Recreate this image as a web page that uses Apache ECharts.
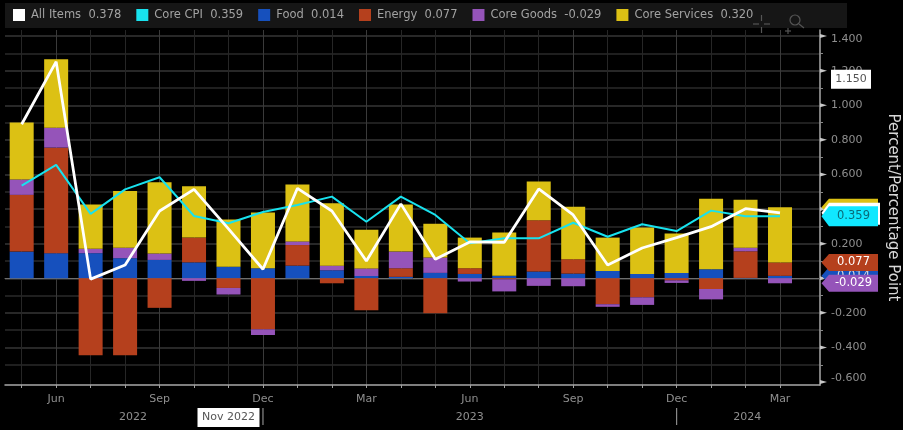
<!DOCTYPE html>
<html><head><meta charset="utf-8">
<style>html,body{margin:0;padding:0;background:#000}#c{width:903px;height:430px}</style>
<script src="https://cdn.jsdelivr.net/npm/echarts@6/dist/echarts.min.js"></script>
</head><body><div id="c"></div>
<script>
const months=["May","Jun","Jul","Aug","Sep","Oct","Nov","Dec","Jan","Feb","Mar","Apr","May","Jun","Jul","Aug","Sep","Oct","Nov","Dec","Jan","Feb","Mar"];
const quarterIdx=[1,4,7,10,13,16,19,22];
const allItems=[0.89,1.252,-0.005,0.077,0.389,0.514,0.285,0.052,0.52,0.389,0.10,0.43,0.11,0.21,0.208,0.516,0.366,0.077,0.175,0.235,0.298,0.402,0.378];
const coreCPI=[0.535,0.655,0.372,0.514,0.584,0.36,0.318,0.383,0.424,0.472,0.327,0.472,0.366,0.202,0.231,0.231,0.321,0.24,0.312,0.273,0.391,0.358,0.359];
const food=[0.154,0.145,0.145,0.116,0.106,0.092,0.067,0.058,0.073,0.046,0.013,0.008,0.031,0.025,0.015,0.039,0.027,0.042,0.025,0.031,0.052,0.002,0.014];
const energy=[0.328,0.61,-0.445,-0.445,-0.171,0.143,-0.056,-0.295,0.119,-0.029,-0.185,0.05,-0.202,0.033,-0.006,0.297,0.083,-0.15,-0.11,-0.012,-0.062,0.154,0.077];
const coreGoods=[0.089,0.115,0.025,0.06,0.037,-0.015,-0.038,-0.033,0.021,0.027,0.044,0.096,0.089,-0.019,-0.07,-0.044,-0.046,-0.015,-0.044,-0.015,-0.06,0.021,-0.029];
const coreServices=[0.329,0.396,0.256,0.328,0.412,0.297,0.272,0.322,0.329,0.36,0.224,0.272,0.195,0.177,0.25,0.224,0.304,0.193,0.268,0.227,0.407,0.277,0.32];
const yTicks=[1.4,1.2,1.0,0.8,0.6,0.4,0.2,0,-0.2,-0.4,-0.6];
const yMinor=[1.3,1.1,0.9,0.7,0.5,0.3,0.1,-0.1,-0.3,-0.5];
const cursorValue=1.150, cursorDate="Nov 2022", cursorIdx=6;
const yearLabels=["2022","2023","2024"];

const F='"DejaVu Sans",sans-serif';
const C={all:'#ffffff',cpi:'#18e2ee',cpiTag:'#10e8ff',food:'#1650bd',energy:'#b5401d',goods:'#9554b9',serv:'#dcc114'};
const idx=months.map((_,i)=>i);
const xr={min:-0.484,max:23.16}, yr={min:-0.617,max:1.435};
const pts=a=>a.map((v,i)=>[i,v]);
const bar=(name,d,color)=>({name,type:'bar',stack:'s',data:d.map((v,i)=>[v,i]),encode:{x:1,y:0},barWidth:24,itemStyle:{color},z:2});
const line=(name,d,color,w,z)=>({name,type:'line',data:pts(d),symbol:'none',z,lineStyle:{color,width:w},itemStyle:{color}});
const last=a=>a[a.length-1];
const legendVals={"All Items":last(allItems),"Core CPI":last(coreCPI),"Food":last(food),"Energy":last(energy),"Core Goods":last(coreGoods),"Core Services":last(coreServices)};
const chart=echarts.init(document.getElementById('c'),null,{renderer:'canvas'});
chart.setOption({
 animation:false,backgroundColor:'#000',
 grid:{left:5,right:83,top:30,bottom:45,outerBoundsMode:'none'},
 legend:{left:13,top:9,itemWidth:12,itemHeight:12,itemGap:15,padding:0,icon:'rect',
  textStyle:{color:'#a2a2a2',fontFamily:F,fontSize:11.5,padding:[0,0,0,1]},
  data:Object.keys(legendVals),
  formatter:n=>n+'  '+legendVals[n].toFixed(3)},
 xAxis:[
  {type:'value',...xr,position:'bottom',
   axisLine:{onZero:false,lineStyle:{color:'#a8a8a8',width:1.5}},
   axisTick:{customValues:idx,length:3,lineStyle:{color:'#a0a0a0'}},
   axisLabel:{customValues:quarterIdx,formatter:v=>months[v],color:'#8f8f8f',fontFamily:F,fontSize:11,margin:9},
   splitLine:{show:true,lineStyle:{color:'#262626'}}},
  {type:'value',...xr,position:'bottom',
   axisLine:{show:true,onZero:true,onZeroAxisIndex:0,lineStyle:{color:'#6e6e6e',width:1}},
   axisTick:{show:false,customValues:quarterIdx},axisLabel:{show:false},
   splitLine:{show:true,lineStyle:{color:'#3a3a3a'}}}
 ],
 yAxis:[
  {type:'value',...yr,position:'right',
   axisLine:{show:true,onZero:false,lineStyle:{color:'#a8a8a8',width:1.5}},
   axisTick:{show:true,customValues:yMinor,length:3,lineStyle:{color:'#888'}},
   axisLabel:{customValues:yTicks,margin:11,color:'#8f8f8f',fontFamily:F,fontSize:11,
    formatter:v=>{const s=v.toFixed(3);return v>1.39?'{t|'+s+'}':(v<-0.59?'{b|'+s+'}':s);},
    rich:{t:{color:'#8f8f8f',fontFamily:F,fontSize:11,padding:[7,0,0,0]},b:{color:'#8f8f8f',fontFamily:F,fontSize:11,padding:[0,0,7,0]}}},
   splitLine:{show:true,lineStyle:{color:'#2a2a2a',width:1.5}},
   name:'Percent/Percentage Point',nameLocation:'middle',nameRotate:-90,nameGap:73,
   nameTextStyle:{color:'#d8d8d8',fontFamily:F,fontSize:15,align:'center',verticalAlign:'middle'}},
  {type:'value',...yr,position:'right',
   axisLine:{show:false,onZero:false},axisTick:{show:false,customValues:yTicks.slice(0,-1)},axisLabel:{show:false},
   splitLine:{show:true,lineStyle:{color:'#363636',width:1.5}}}
 ],
 series:[
  bar('Food',food,C.food),bar('Energy',energy,C.energy),bar('Core Goods',coreGoods,C.goods),bar('Core Services',coreServices,C.serv),
  line('Core CPI',coreCPI,C.cpi,2,5),line('All Items',allItems,C.all,2.8,6)
 ]
});
const X=i=>chart.convertToPixel({xAxisIndex:0},i), Y=v=>chart.convertToPixel({yAxisIndex:0},v);
const g=[];
const tag=(val,ty,fill,txt,right,up,dn)=>{const y=Y(ty);
 g.push({type:'polygon',z:20,shape:{points:[[821.5,y],[829,y-up],[right,y-up],[right,y+dn],[829,y+dn]]},style:{fill}});
 g.push({type:'text',z:20,style:{x:(829+right)/2,y,text:val.toFixed(3),fill:txt,font:'11.5px '+F,align:'center',verticalAlign:'middle'}});};
yTicks.forEach(v=>{const y=Y(v);g.push({type:'polygon',z:10,shape:{points:[[820,y-2],[827,y],[820,y+2]]},style:{fill:'#c8c8c8'}});});
const fE=last(food)+last(energy), fS=fE+last(coreServices);
tag(last(coreServices),fS,C.serv,C.serv,878,8.5,8.5);
tag(last(allItems),last(allItems),'#fff','#fff',880,10,12);
tag(last(coreCPI),last(coreCPI),C.cpiTag,'#0a6a78',878,10,10);
tag(last(food),last(food),C.food,'#ddd',878,8.5,8.5);
tag(last(energy),fE,C.energy,'#fff',878,8.5,8.5);
tag(last(coreGoods),last(coreGoods),C.goods,'#fff',878,8.5,8.5);
const cy=Y(cursorValue);
g.push({type:'rect',z:20,shape:{x:831,y:cy-9.5,width:40,height:19},style:{fill:'#fff'}});
g.push({type:'text',z:20,style:{x:851,y:cy,text:cursorValue.toFixed(3),fill:'#555',font:'11px '+F,align:'center',verticalAlign:'middle'}});
const cx=X(cursorIdx);
g.push({type:'rect',z:20,shape:{x:cx-31,y:408,width:62,height:19},style:{fill:'#fff'}});
g.push({type:'text',z:20,style:{x:cx,y:417.5,text:cursorDate,fill:'#555',font:'11px '+F,align:'center',verticalAlign:'middle'}});
[[3.23,yearLabels[0]],[13,yearLabels[1]],[21.05,yearLabels[2]]].forEach(([i,t])=>g.push({type:'text',z:10,style:{x:X(i),y:417,text:t,fill:'#8f8f8f',font:'11px '+F,align:'center',verticalAlign:'middle'}}));
[7,19].forEach(i=>g.push({type:'line',z:10,shape:{x1:X(i),y1:408,x2:X(i),y2:425},style:{stroke:'#8a8a8a',lineWidth:1.2}}));
g.push({type:'rect',z:-1,silent:true,shape:{x:5,y:3,width:842,height:25},style:{fill:'#161616'}});
const ic={stroke:'#555',lineWidth:1.2,fill:'none'};
[[753,24,759,24],[764,24,770,24],[761.5,15,761.5,21],[761.5,27,761.5,33]].forEach(a=>g.push({type:'line',z:22,shape:{x1:a[0],y1:a[1],x2:a[2],y2:a[3]},style:ic}));
g.push({type:'circle',z:22,shape:{cx:795,cy:20,r:5},style:ic});
g.push({type:'line',z:22,shape:{x1:799,y1:24,x2:804,y2:28},style:ic});
g.push({type:'line',z:22,shape:{x1:785,y1:31,x2:791,y2:31},style:ic});
g.push({type:'line',z:22,shape:{x1:788,y1:28,x2:788,y2:34},style:ic});
chart.setOption({graphic:g});
</script></body></html>
